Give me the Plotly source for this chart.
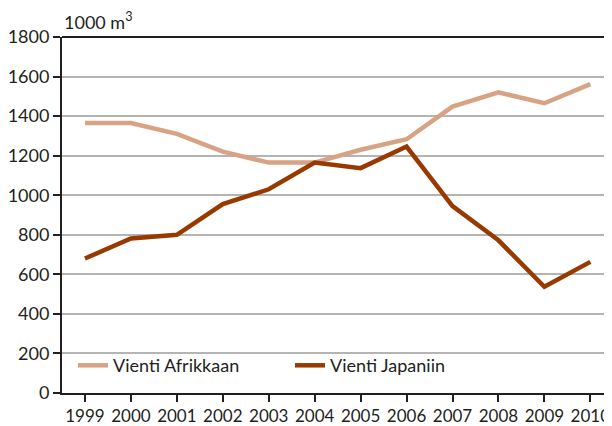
import plotly.graph_objects as go

years = [1999, 2000, 2001, 2002, 2003, 2004, 2005, 2006, 2007, 2008, 2009, 2010]
afrikka = [1365, 1365, 1310, 1220, 1165, 1165, 1230, 1283, 1448, 1520, 1465, 1562]
japani = [680, 781, 800, 955, 1030, 1165, 1137, 1246, 945, 772, 537, 663]
y_ticks = [0, 200, 400, 600, 800, 1000, 1200, 1400, 1600, 1800]

FONT = "Lato"
FS = 18
TXT = "#231f20"

# page body has an 8px margin; size the figure so it fits the 612x426 window
fig = go.Figure()
fig.add_trace(go.Scatter(x=years, y=afrikka, mode="lines", name="Vienti Afrikkaan",
                         line=dict(color="#D8A384", width=4.5)))
fig.add_trace(go.Scatter(x=years, y=japani, mode="lines", name="Vienti Japaniin",
                         line=dict(color="#983A00", width=4.5)))

fig.update_layout(
    width=604, height=418,
    margin=dict(l=54, r=1, t=29, b=33, autoexpand=False),
    paper_bgcolor="white", plot_bgcolor="white",
    font=dict(family=FONT, size=FS, color=TXT),
    showlegend=True,
    legend=dict(orientation="h", x=0.02, y=0.025, xanchor="left", yanchor="bottom",
                bgcolor="rgba(0,0,0,0)", font=dict(family=FONT, size=FS, color=TXT),
                entrywidth=172, tracegroupgap=0),
    xaxis=dict(range=[1998.5, 2010.45], tickvals=years, ticktext=[str(y) for y in years],
               showgrid=False, zeroline=False, showline=True, linecolor=TXT, linewidth=2,
               ticks="outside", ticklen=7, tickwidth=2, tickcolor=TXT,
               tickfont=dict(family=FONT, size=17)),
    yaxis=dict(range=[0, 1800], tickvals=y_ticks, showgrid=True, gridcolor="#b4b4b4", gridwidth=1.5,
               zeroline=False, showline=True, linecolor=TXT, linewidth=2,
               ticks="outside", ticklen=7, tickwidth=2, tickcolor=TXT,
               tickfont=dict(family=FONT, size=FS)),
    shapes=[
        dict(type="line", xref="paper", yref="paper", x0=0, x1=1, y0=1, y1=1,
             line=dict(color=TXT, width=2)),
        dict(type="line", xref="paper", yref="paper", x0=1, x1=1, y0=0, y1=1,
             line=dict(color="#b4b4b4", width=1.5)),
    ],
    annotations=[
        dict(text="1000 m<sup>3</sup>", xref="paper", yref="paper", x=0, y=1, xanchor="left",
             yanchor="bottom", yshift=2, showarrow=False, font=dict(family=FONT, size=FS, color=TXT)),
    ],
)

fig.write_html("out.html")
